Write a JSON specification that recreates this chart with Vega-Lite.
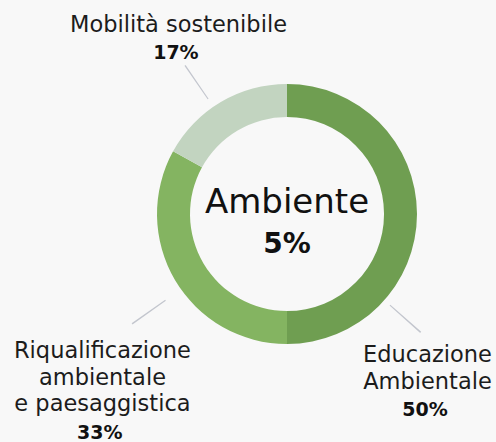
{
  "$schema": "https://vega.github.io/schema/vega-lite/v6.json",
  "autosize": "none",
  "width": 418,
  "height": 428,
  "padding": {"left": 78, "top": 0, "right": 0, "bottom": 14},
  "background": "#f8f8f8",
  "config": {"view": {"stroke": null}, "font": "DejaVu Sans"},
  "datasets": {
    "quote": [
      {"categoria": "Educazione Ambientale", "ordine": 1, "valore": 50, "nome": ["Educazione", "Ambientale"], "percentuale": "50%"},
      {"categoria": "Riqualificazione ambientale e paesaggistica", "ordine": 2, "valore": 33, "nome": ["Riqualificazione", "ambientale", "e paesaggistica"], "percentuale": "33%"},
      {"categoria": "Mobilità sostenibile", "ordine": 3, "valore": 17, "nome": ["Mobilità sostenibile"], "percentuale": "17%"}
    ],
    "totale": [{"ambito": "Ambiente", "quota": "5%"}]
  },
  "layer": [
    {
      "data": {"name": "quote"},
      "mark": {"type": "arc", "innerRadius": 97, "outerRadius": 130},
      "encoding": {
        "theta": {"field": "valore", "type": "quantitative", "stack": true},
        "order": {"field": "ordine", "type": "quantitative"},
        "color": {
          "field": "categoria",
          "type": "nominal",
          "scale": {
            "domain": ["Educazione Ambientale", "Riqualificazione ambientale e paesaggistica", "Mobilità sostenibile"],
            "range": ["#6f9e51", "#84b461", "#c2d4c0"]
          },
          "legend": null
        }
      }
    },
    {
      "data": {"name": "quote"},
      "mark": {
        "type": "arc",
        "color": "#c3c6ce",
        "theta": {"expr": "datum.ordine == 1 ? 2.291 : datum.ordine == 2 ? 4.091 : 5.678"},
        "theta2": {"expr": "datum.ordine == 1 ? 2.300 : datum.ordine == 2 ? 4.099 : 5.686"},
        "radius": {"expr": "datum.ordine == 1 ? 137.5 : datum.ordine == 2 ? 149 : 139.5"},
        "radius2": {"expr": "datum.ordine == 1 ? 178.6 : datum.ordine == 2 ? 190 : 180.3"}
      },
      "encoding": {}
    },
    {
      "data": {"name": "quote"},
      "mark": {
        "type": "text",
        "radius": 200,
        "fontSize": 22.5,
        "lineHeight": 26.5,
        "baseline": "alphabetic",
        "align": "center",
        "color": "#1c1c1c",
        "dx": {"expr": "datum.ordine == 1 ? -59.5 : datum.ordine == 2 ? -12.4 : -6.7"},
        "dy": {"expr": "datum.ordine == 1 ? 148 : datum.ordine == 2 ? 42.2 : -10.2"}
      },
      "encoding": {
        "theta": {"field": "valore", "type": "quantitative", "stack": true},
        "order": {"field": "ordine", "type": "quantitative"},
        "text": {"field": "nome"}
      }
    },
    {
      "data": {"name": "quote"},
      "mark": {
        "type": "text",
        "radius": 200,
        "fontSize": 19,
        "fontWeight": "bold",
        "baseline": "alphabetic",
        "align": "center",
        "color": "#111111",
        "dx": {"expr": "datum.ordine == 1 ? -62 : datum.ordine == 2 ? -15 : -9.3"},
        "dy": {"expr": "datum.ordine == 1 ? 202 : datum.ordine == 2 ? 123 : 17.4"}
      },
      "encoding": {
        "theta": {"field": "valore", "type": "quantitative", "stack": true},
        "order": {"field": "ordine", "type": "quantitative"},
        "text": {"field": "percentuale"}
      }
    },
    {
      "data": {"name": "totale"},
      "mark": {"type": "text", "fontSize": 34, "baseline": "alphabetic", "align": "center", "color": "#111111", "dy": -1},
      "encoding": {"text": {"field": "ambito"}}
    },
    {
      "data": {"name": "totale"},
      "mark": {"type": "text", "fontSize": 28, "fontWeight": "bold", "baseline": "alphabetic", "align": "center", "color": "#111111", "dy": 39},
      "encoding": {"text": {"field": "quota"}}
    }
  ]
}
